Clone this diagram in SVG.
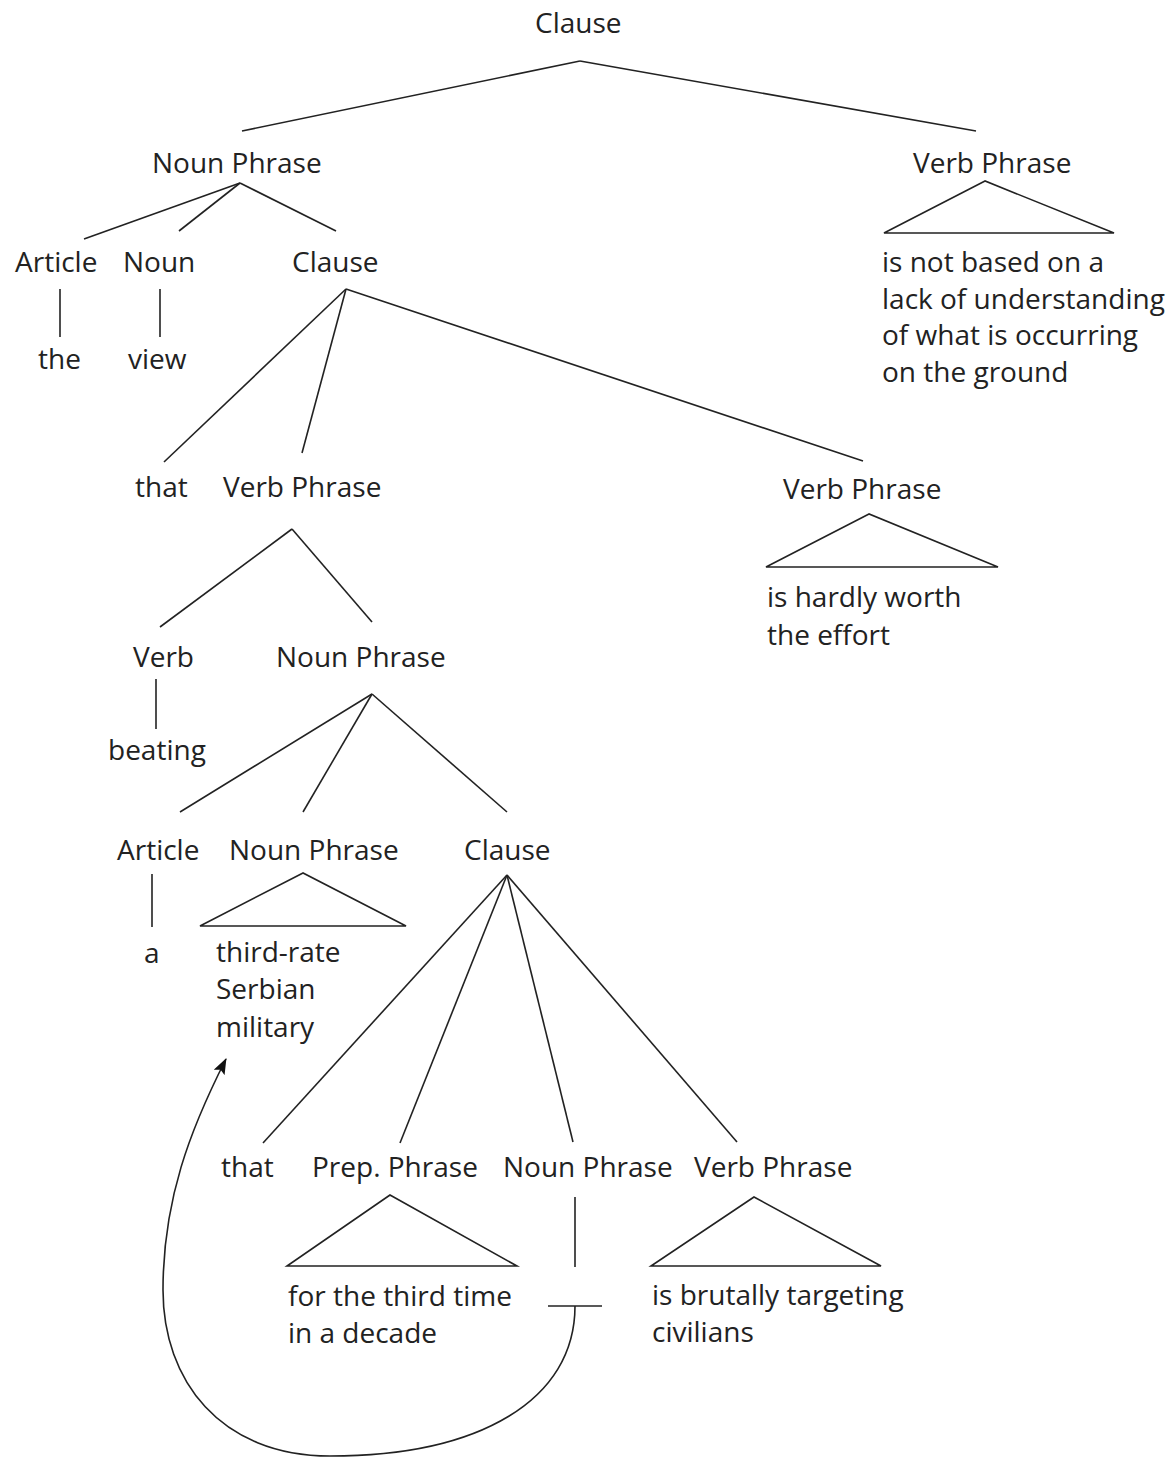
<svg xmlns="http://www.w3.org/2000/svg" width="1172" height="1458" viewBox="0 0 1172 1458">
<style>
text{font-family:"Open Sans","Noto Sans","Liberation Sans",sans-serif;font-size:28px;fill:#222}
.e{stroke:#222;stroke-width:1.6;fill:none}
</style>
<defs>
<marker id="ah" viewBox="0 0 16 12" refX="15" refY="6" markerWidth="16" markerHeight="12" markerUnits="userSpaceOnUse" orient="auto">
<path d="M0,0 L16,6 L0,12 L3,6 z" fill="#111"/>
</marker>
</defs>
<rect width="1172" height="1458" fill="#fff"/>
<g id="connectors" class="e">
<line x1="580" y1="61" x2="242" y2="131"/>
<line x1="580" y1="61" x2="976" y2="131"/>
<line x1="240" y1="183" x2="84" y2="239"/>
<line x1="240" y1="183" x2="179" y2="231"/>
<line x1="240" y1="183" x2="336" y2="231"/>
<polygon points="985,181 884,233 1114,233"/>
<line x1="60" y1="289" x2="60" y2="337"/>
<line x1="160" y1="289" x2="160" y2="337"/>
<line x1="346" y1="289" x2="164" y2="462"/>
<line x1="346" y1="289" x2="302" y2="453"/>
<line x1="346" y1="289" x2="863" y2="461"/>
<polygon points="869,514 766,567 998,567"/>
<line x1="292" y1="529" x2="160" y2="627"/>
<line x1="292" y1="529" x2="372" y2="622"/>
<line x1="156" y1="679" x2="156" y2="729"/>
<line x1="372" y1="694" x2="180" y2="812"/>
<line x1="372" y1="694" x2="303" y2="812"/>
<line x1="372" y1="694" x2="507" y2="812"/>
<line x1="152" y1="874" x2="152" y2="927"/>
<polygon points="303,873 200,926 406,926"/>
<line x1="507" y1="875" x2="263" y2="1143"/>
<line x1="507" y1="875" x2="400" y2="1143"/>
<line x1="507" y1="875" x2="573" y2="1142"/>
<line x1="507" y1="875" x2="737" y2="1142"/>
<polygon points="390,1195 287,1266 517,1266"/>
<line x1="575" y1="1197" x2="575" y2="1267"/>
<line x1="548" y1="1306" x2="602" y2="1306"/>
<polygon points="754,1197 651,1266 881,1266"/>
<path d="M575,1306 C575,1400 480,1456 330,1456 C220,1456 163,1380 163,1290 C163,1200 190,1130 226,1059" marker-end="url(#ah)"/>
</g>
<g id="n-clause-top"><text x="535" y="33">Clause</text></g>
<g id="n-np1"><text x="152" y="173">Noun Phrase</text></g>
<g id="n-vp1"><text x="913" y="173">Verb Phrase</text></g>
<g id="n-vp1-text"><text x="882" y="272">is not based on a</text><text x="882" y="309">lack of understanding</text><text x="882" y="345">of what is occurring</text><text x="882" y="382">on the ground</text></g>
<g id="n-article1"><text x="15" y="272">Article</text></g>
<g id="n-noun1"><text x="123" y="272">Noun</text></g>
<g id="n-clause2"><text x="292" y="272">Clause</text></g>
<g id="n-the"><text x="38" y="369">the</text></g>
<g id="n-view"><text x="128" y="369">view</text></g>
<g id="n-that1"><text x="135" y="497">that</text></g>
<g id="n-vp2"><text x="223" y="497">Verb Phrase</text></g>
<g id="n-vp3"><text x="783" y="499">Verb Phrase</text></g>
<g id="n-vp3-text"><text x="767" y="607">is hardly worth</text><text x="767" y="645">the effort</text></g>
<g id="n-verb"><text x="133" y="667">Verb</text></g>
<g id="n-np2"><text x="276" y="667">Noun Phrase</text></g>
<g id="n-beating"><text x="108" y="760">beating</text></g>
<g id="n-article2"><text x="117" y="860">Article</text></g>
<g id="n-np3"><text x="229" y="860">Noun Phrase</text></g>
<g id="n-clause3"><text x="464" y="860">Clause</text></g>
<g id="n-a"><text x="144" y="963">a</text></g>
<g id="n-np3-text"><text x="216" y="962">third-rate</text><text x="216" y="999">Serbian</text><text x="216" y="1037">military</text></g>
<g id="n-that2"><text x="221" y="1177">that</text></g>
<g id="n-pp"><text x="312" y="1177">Prep. Phrase</text></g>
<g id="n-np4"><text x="503" y="1177">Noun Phrase</text></g>
<g id="n-vp4"><text x="694" y="1177">Verb Phrase</text></g>
<g id="n-pp-text"><text x="288" y="1306">for the third time</text><text x="288" y="1343">in a decade</text></g>
<g id="n-vp4-text"><text x="652" y="1305">is brutally targeting</text><text x="652" y="1342">civilians</text></g>
</svg>
